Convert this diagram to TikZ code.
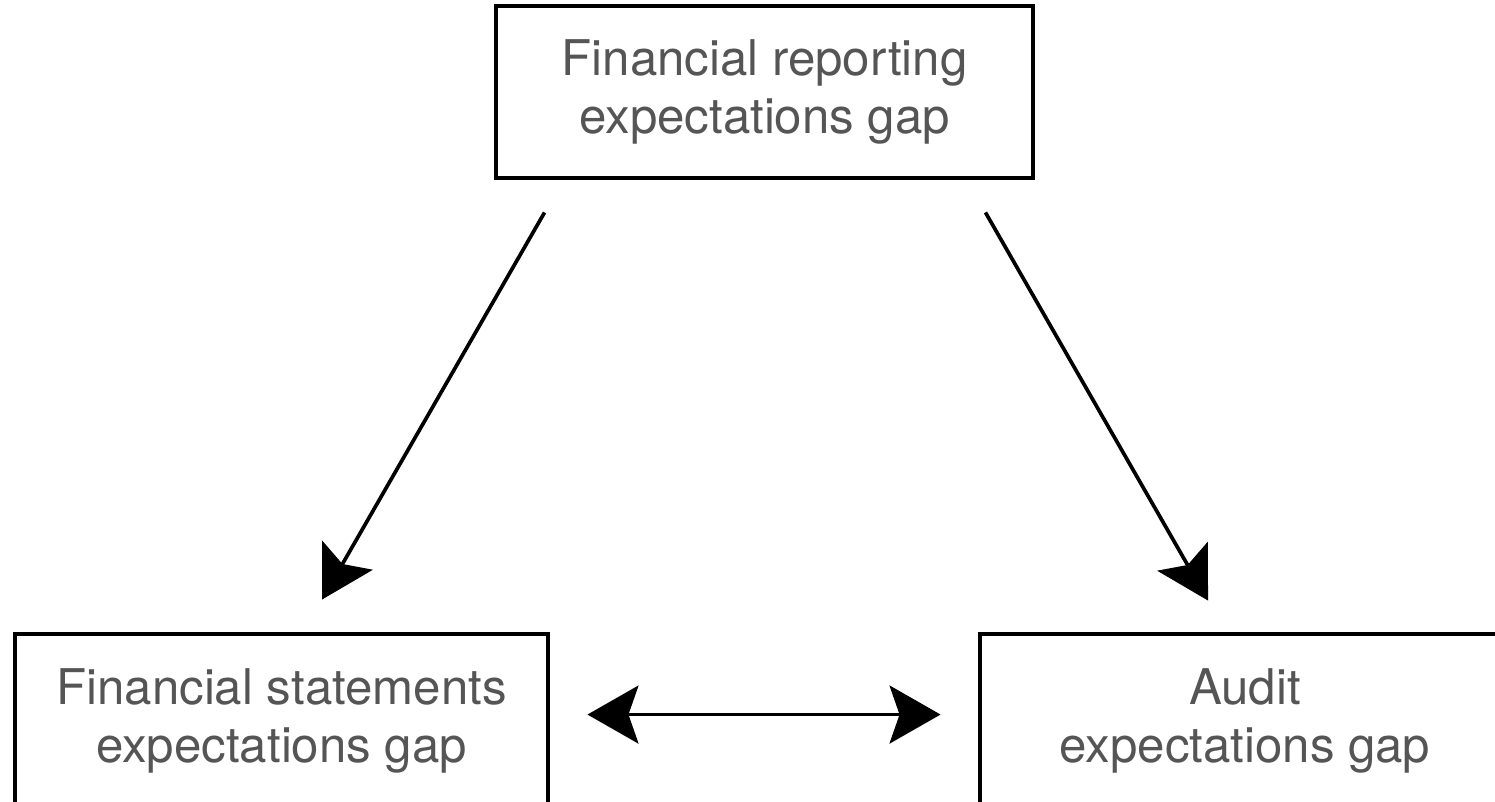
\documentclass[tikz,border=0pt]{standalone}
\usepackage{fontspec}
\setmainfont{TeX Gyre Heros}
\usetikzlibrary{calc}
\usetikzlibrary{arrows.meta}
\definecolor{txtgray}{HTML}{555555}
\tikzset{%
  gapbox/.style = {rectangle,draw,line width=1.4pt,inner sep=0pt},
  gaptext/.style = {align=center,text=txtgray,
        font=\fontsize{14}{16.3}\selectfont},
  gaparrow/.style = {>={Stealth[length=5.1mm,width=5.8mm,inset=1mm]},
        line width=1.05pt}
}

\begin{document}
\begin{tikzpicture}[x=0.1mm,y=-0.1mm]
    \useasboundingbox (0,0) rectangle (1495,801);
    \clip (0,0) rectangle (1495,801);
    \node[gapbox,gaptext,minimum width=53.7mm,minimum height=17.2mm] (fr)
        at (764.5,92) {Financial reporting\\expectations gap};
    \node[gapbox,minimum width=53.3mm,minimum height=26.6mm] (fs)
        at (281.5,767) {};
    \node[gapbox,minimum width=53mm,minimum height=26.6mm] (ab)
        at (1245,767) {};
    \node[gaptext,anchor=base] (fstext) at (281.5,762)
        {Financial statements\\expectations gap};
    \node[gaptext,anchor=base] (abtext) at (1245,762)
        {Audit\\expectations gap};
    \draw[gaparrow,->] ($(fr.south west)+(51,32)$) -- ($(fs.north)+(40.5,-32)$);
    \draw[gaparrow,->] ($(fr.south east)+(-50,32)$) -- ($(ab.north)+(-37,-31)$);
    \draw[gaparrow,<->] ($(fs.north east)+(37,83)$) -- ($(ab.north west)+(-37,83)$);
\end{tikzpicture}
\end{document}
